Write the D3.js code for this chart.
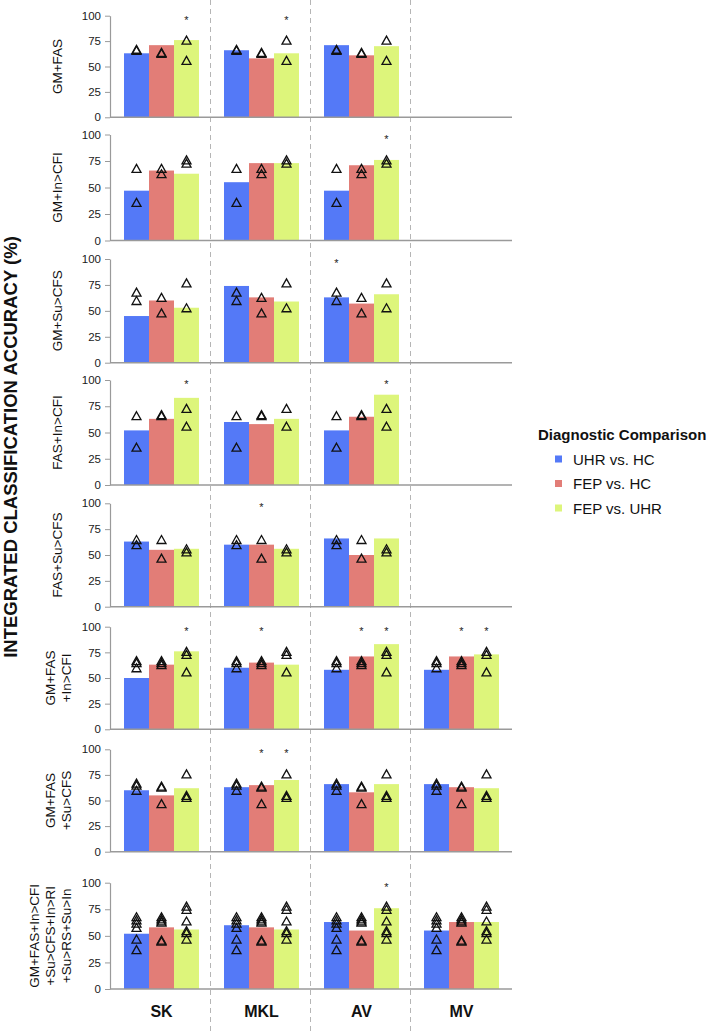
<!DOCTYPE html>
<html>
<head>
<meta charset="utf-8">
<script src="https://cdn.jsdelivr.net/npm/d3@7"></script>
<style>
  html, body { margin: 0; padding: 0; background: #fff; }
  svg { display: block; font-family: "Liberation Sans", Arial, Helvetica, sans-serif; }
</style>
</head>
<body>
<svg id="chart" width="708" height="1031"></svg>
<script>
// ---------------- DATA ----------------
const methods = ["SK", "MKL", "AV", "MV"];
const comparisons = ["UHR vs. HC", "FEP vs. HC", "FEP vs. UHR"];
const colors = ["#5479F7", "#E27D77", "#DDF57B"];
const featureSetLabels = [
  ["GM+FAS"],
  ["GM+In>CFI"],
  ["GM+Su>CFS"],
  ["FAS+In>CFI"],
  ["FAS+Su>CFS"],
  ["GM+FAS", "+In>CFI"],
  ["GM+FAS", "+Su>CFS"],
  ["GM+FAS+In>CFI", "+Su>CFS+In>RI", "+Su>RS+Su>In"]
];
const yTicks = [0, 25, 50, 75, 100];

// bar values per feature set, per method: [UHR vs. HC, FEP vs. HC, FEP vs. UHR]  (null = not run)
const barsGMFAS      = [[63, 71, 76], [66, 58, 63], [71, 61, 70], null];
const barsGMIn       = [[47, 66, 63], [55, 73, 73], [47, 71, 76], null];
const barsGMSu       = [[45, 60, 53], [74, 63, 59], [63, 57, 66], null];
const barsFASIn      = [[52, 63, 83], [60, 58, 63], [52, 65, 86], null];
const barsFASSu      = [[63, 55, 56], [60, 60, 56], [66, 50, 66], null];
const barsGMFASIn    = [[50, 63, 76], [60, 65, 63], [58, 71, 83], [58, 71, 73]];
const barsGMFASSu    = [[60, 55, 62], [63, 65, 70], [66, 58, 66], [66, 63, 62]];
const barsAll        = [[52, 58, 56], [60, 58, 56], [63, 55, 76], [55, 63, 63]];
const barValues = [barsGMFAS, barsGMIn, barsGMSu, barsFASIn, barsFASSu, barsGMFASIn, barsGMFASSu, barsAll];

// single-modality accuracies (triangles), per feature set, per comparison
const triGMFAS   = [[67, 66], [64, 63], [76, 56]];
const triGMIn    = [[68, 36], [68, 63], [76, 73]];
const triGMSu    = [[68, 60], [63, 48], [77, 53]];
const triFASIn   = [[66, 36], [67, 66], [73, 56]];
const triFASSu   = [[65, 60], [65, 47], [56, 53]];
const triGMFASIn = [[67, 65, 60], [67, 65, 63], [76, 73, 56]];
const triGMFASSu = [[67, 65, 60], [64, 63, 47], [76, 55, 53]];
const triAll     = [[68, 65, 62, 58, 47, 37], [68, 66, 64, 63, 46, 45], [78, 75, 64, 55, 53, 47]];
const triangleValues = [triGMFAS, triGMIn, triGMSu, triFASIn, triFASSu, triGMFASIn, triGMFASSu, triAll];

// significance stars: [featureSetIndex, method, comparisonIndex]
const stars = [
  [0, "SK", 2], [0, "MKL", 2],
  [1, "AV", 2],
  [2, "AV", 0],
  [3, "SK", 2], [3, "AV", 2],
  [4, "MKL", 1],
  [5, "SK", 2], [5, "MKL", 1], [5, "AV", 1], [5, "AV", 2], [5, "MV", 1], [5, "MV", 2],
  [6, "MKL", 1], [6, "MKL", 2],
  [7, "AV", 2]
];

// ---------------- LAYOUT ----------------
const rowTop    = [15.7, 134.5, 259, 380, 503.3, 626.7, 749.3, 882.7];
const rowBottom = [117.3, 240.5, 362.7, 485, 606.7, 729.3, 851.7, 989];
const axisX = 110, plotRight = 512;

const svg = d3.select("#chart");

const x = d3.scaleBand().domain(methods).range([111.5, 511.5]).paddingInner(0).paddingOuter(0);
const xs = d3.scaleBand().domain(d3.range(comparisons.length)).range([0, x.bandwidth()]).paddingInner(0).paddingOuter(0.5);

// dashed separators
svg.append("g").selectAll("line")
  .data(methods.slice(1))
  .join("line")
  .attr("x1", d => x(d) - 1).attr("x2", d => x(d) - 1)
  .attr("y1", 0).attr("y2", 1031)
  .attr("stroke", "#b5b5b5").attr("stroke-width", 1)
  .attr("stroke-dasharray", "5,4");

const triPath = (cx, cy) => {
  const w = 9, h = 8;
  return `M${cx},${cy - h / 2}L${cx + w / 2},${cy + h / 2}L${cx - w / 2},${cy + h / 2}Z`;
};

featureSetLabels.forEach((lab, r) => {
  const y = d3.scaleLinear().domain([0, 100]).range([rowBottom[r], rowTop[r]]);
  const g = svg.append("g");

  // bars
  barValues[r].forEach((vals, mi) => {
    if (!vals) return;
    const m = methods[mi];
    g.append("g").selectAll("rect")
      .data(vals)
      .join("rect")
      .attr("x", (d, i) => x(m) + xs(i))
      .attr("y", d => y(d))
      .attr("width", xs.bandwidth())
      .attr("height", d => y(0) - y(d))
      .attr("fill", (d, i) => colors[i]);

    // triangles
    triangleValues[r].forEach((tv, si) => {
      g.append("g").selectAll("path")
        .data(tv)
        .join("path")
        .attr("d", d => triPath(x(m) + xs(si) + xs.bandwidth() / 2, y(d)))
        .attr("fill", "none")
        .attr("stroke", "#111")
        .attr("stroke-width", 1.3)
        .attr("stroke-linejoin", "miter");
    });
  });

  // stars
  g.append("g").selectAll("text")
    .data(stars.filter(s => s[0] === r))
    .join("text")
    .attr("x", d => x(d[1]) + xs(d[2]) + xs.bandwidth() / 2)
    .attr("y", y(98) + 6)
    .attr("text-anchor", "middle")
    .attr("font-size", 11)
    .attr("fill", "#222")
    .text("*");

  // y axis
  const ax = g.append("g")
    .attr("transform", `translate(${axisX},0)`)
    .call(d3.axisLeft(y).tickValues(yTicks).tickSize(5).tickPadding(4).tickSizeOuter(0));
  ax.select(".domain").attr("stroke", "#9a9a9a").attr("stroke-width", 1.2);
  ax.selectAll(".tick line").attr("stroke", "#9a9a9a");
  ax.selectAll(".tick text").attr("font-size", 11.5).attr("fill", "#1a1a1a")
    .attr("font-family", "'Liberation Sans', Arial, sans-serif");

  // x axis baseline
  g.append("line")
    .attr("x1", axisX).attr("x2", plotRight)
    .attr("y1", y(0)).attr("y2", y(0))
    .attr("stroke", "#9a9a9a").attr("stroke-width", 1.4);

  // row label
  const cy = (rowTop[r] + rowBottom[r]) / 2;
  const n = lab.length;
  const lastBase = n === 1 ? 62 : 71;
  g.append("g").selectAll("text")
    .data(lab)
    .join("text")
    .attr("transform", (d, i) => `translate(${lastBase - (n - 1 - i) * 16},${cy}) rotate(-90)`)
    .attr("text-anchor", "middle")
    .attr("font-size", 13.5)
    .attr("fill", "#111")
    .text(d => d);
});

// method labels at bottom
svg.append("g").selectAll("text")
  .data(methods)
  .join("text")
  .attr("x", d => x(d) + x.bandwidth() / 2)
  .attr("y", 1017)
  .attr("text-anchor", "middle")
  .attr("font-size", 16)
  .attr("font-weight", "bold")
  .attr("fill", "#111")
  .text(d => d);

// y title
svg.append("text")
  .attr("transform", "translate(17,447) rotate(-90)")
  .attr("text-anchor", "middle")
  .attr("font-size", 18.5)
  .attr("font-weight", "bold")
  .attr("fill", "#111")
  .text("INTEGRATED CLASSIFICATION ACCURACY (%)");

// legend
const lg = svg.append("g");
lg.append("text")
  .attr("x", 538).attr("y", 440)
  .attr("font-size", 15).attr("font-weight", "bold").attr("fill", "#111")
  .text("Diagnostic Comparison");
const items = lg.selectAll("g.item")
  .data(comparisons)
  .join("g")
  .attr("class", "item")
  .attr("transform", (d, i) => `translate(0,${459 + i * 24.5})`);
items.append("rect")
  .attr("x", 555).attr("y", -3.5).attr("width", 7).attr("height", 7)
  .attr("fill", (d, i) => colors[i]);
items.append("text")
  .attr("x", 573).attr("y", 5.5)
  .attr("font-size", 15).attr("fill", "#111")
  .text(d => d);
</script>
</body>
</html>
